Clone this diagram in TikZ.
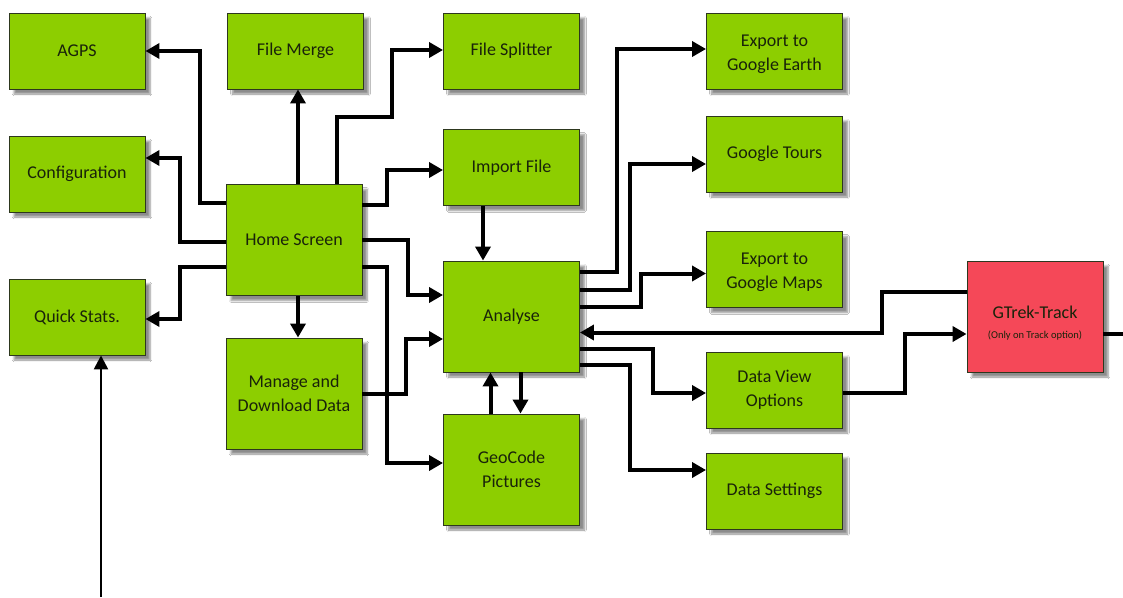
\documentclass[tikz,border=0pt]{standalone}
\usepackage{fontspec}
\setmainfont{Carlito}
\usetikzlibrary{arrows.meta,shadows.blur}
\definecolor{boxgreen}{RGB}{141,206,0}
\definecolor{boxred}{RGB}{245,72,88}
\definecolor{boxline}{RGB}{45,55,30}
\definecolor{boxtext}{RGB}{25,35,10}
\tikzset{
  box/.style={draw=boxline, line width=0.9pt, fill=boxgreen, minimum width=136pt,
    minimum height=76pt, inner sep=2pt, align=center, text=boxtext,
    font=\fontsize{18}{24.5}\selectfont,
    blur shadow={shadow xshift=5pt, shadow yshift=-5pt, shadow opacity=45, shadow blur steps=6}},
  tallbox/.style={box, minimum height=111pt},
  redbox/.style={tallbox, fill=boxred},
  conn/.style={line width=4pt, draw=black, -{Triangle[length=14pt,width=15pt]}},
  plainconn/.style={line width=4pt, draw=black},
  thinconn/.style={line width=2.5pt, draw=black, -{Triangle[length=14pt,width=14pt]}}
}
\begin{document}
\begin{tikzpicture}[x=1pt,y=-1pt]
\useasboundingbox[fill=white] (0,0) rectangle (1123,597);
% boxes
\node[box] (agps) at (77,51) {AGPS};
\node[box] (merge) at (295.5,51) {File Merge};
\node[box] (split) at (511.5,51) {File Splitter};
\node[box] (earth) at (774.5,51) {\rule{0pt}{18pt}Export to\\Google Earth};
\node[box] (tours) at (774.5,154) {Google Tours};
\node[box] (maps) at (774.5,269.5) {\rule{0pt}{17pt}Export to\\Google Maps};
\node[box] (config) at (77,174) {Configuration};
\node[tallbox] (home) at (294,240) {Home Screen};
\node[box] (quick) at (77,317) {Quick Stats.};
\node[box] (import) at (511.5,167.5) {Import File};
\node[tallbox] (analyse) at (511.5,316.5) {Analyse};
\node[tallbox] (manage) at (294,393.5) {Manage and\\Download Data};
\node[tallbox] (geo) at (511.5,469.5) {GeoCode\\Pictures};
\node[box] (dvo) at (774.5,390) {Data View\\Options};
\node[box] (dset) at (774.5,491) {Data Settings};
\node[redbox] (gtrek) at (1035,316.5) {\rule{0pt}{26pt}GTrek-Track\\[-5pt]{\fontsize{10.5}{12}\selectfont (Only on Track option)}};
% free ends
\coordinate (gout) at (1123,334);
\coordinate (qin) at (101,597);
% connectors from Home Screen
\draw[conn] ([yshift=37pt]home.west) -- ++(-26,0) |- (agps.east);
\draw[conn] ([yshift=-2pt]home.west) -- ++(-46,0) |- ([yshift=16pt]config.east);
\draw[conn] ([yshift=-27pt]home.west) -- ++(-46,0) |- ([yshift=-2pt]quick.east);
\draw[conn] ([xshift=4pt]home.north) -- ([xshift=4pt]home.north |- merge.south);
\draw[conn] ([xshift=43pt]home.north) -- ++(0,-67) -- ++(55,0) |- ([yshift=1pt]split.west);
\draw[conn] ([yshift=35pt]home.east) -- ++(25,0) |- ([yshift=-2.5pt]import.west);
\draw[conn] (home.east) -- ++(46,0) |- ([yshift=21.5pt]analyse.west);
\draw[conn] ([yshift=-27pt]home.east) -- ++(25,0) |- ([yshift=6.5pt]geo.west);
\draw[conn] ([xshift=4pt]home.south) -- ([xshift=4pt]home.south |- manage.north);
\draw[conn] (manage.east) -- ++(44,0) |- ([yshift=-22.5pt]analyse.west);
% around Analyse
\draw[conn] ([xshift=-28.5pt]import.south) -- ([xshift=-28.5pt]import.south |- analyse.north);
\draw[conn] ([xshift=-21pt]geo.north) -- ([xshift=-21pt]geo.north |- analyse.south);
\draw[conn] ([xshift=9pt]analyse.south) -- ([xshift=9pt]analyse.south |- geo.north);
\draw[conn] ([yshift=44.5pt]analyse.east) -- ++(37,0) |- ([yshift=2pt]earth.west);
\draw[conn] ([yshift=26.5pt]analyse.east) -- ++(50,0) |- ([yshift=-10pt]tours.west);
\draw[conn] ([yshift=9.5pt]analyse.east) -- ++(61,0) |- ([yshift=-4pt]maps.west);
\draw[conn] ([yshift=24.5pt]gtrek.west) -- ++(-85,0) |- ([yshift=-16pt]analyse.east);
\draw[conn] ([yshift=-32pt]analyse.east) -- ++(73,0) |- ([yshift=-3pt]dvo.west);
\draw[conn] ([yshift=-48pt]analyse.east) -- ++(50,0) |- ([yshift=21pt]dset.west);
\draw[conn] ([yshift=-3pt]dvo.east) -- ++(62,0) |- ([yshift=-17.5pt]gtrek.west);
\draw[plainconn] ([yshift=-17.5pt]gtrek.east) -- (gout);
\draw[thinconn] (qin) -- (qin |- quick.south);
\end{tikzpicture}
\end{document}
